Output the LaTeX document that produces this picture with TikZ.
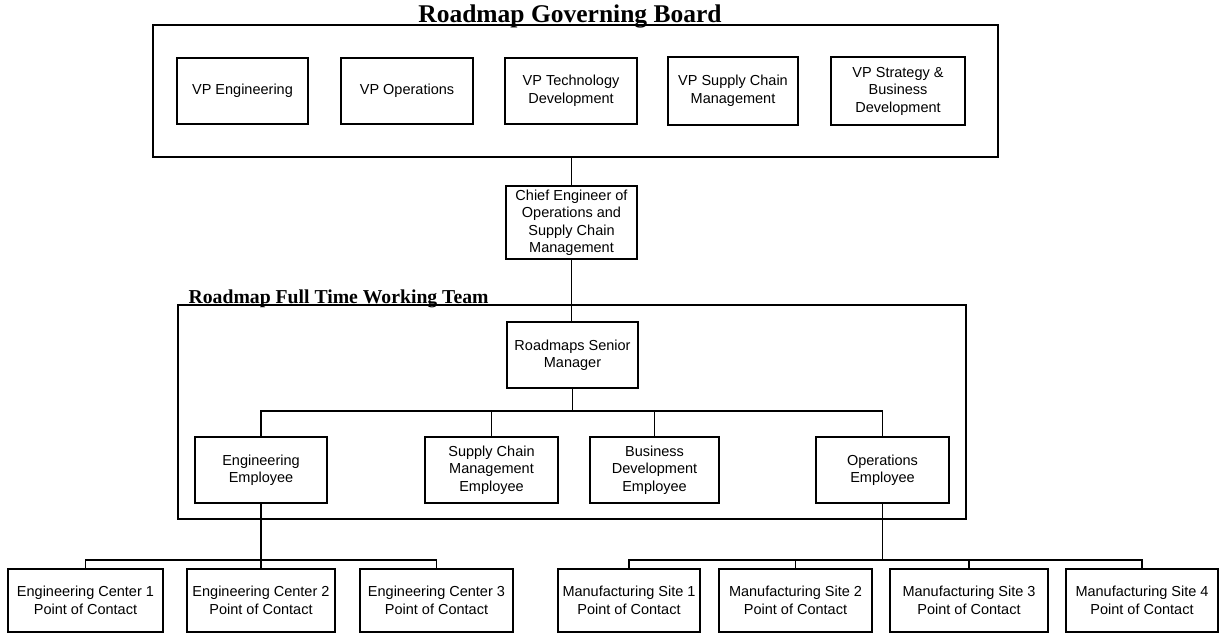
\documentclass[tikz,border=0pt]{standalone}
\usepackage{fontspec}
\setmainfont{Liberation Sans}
\newfontfamily\headfont{Liberation Serif}
\begin{document}
\begin{tikzpicture}[x=1pt,y=-1pt,
  line width=1.3pt,
  box/.style={draw, align=center, inner sep=0pt, font=\fontsize{14.5}{17.5}\selectfont},
  frame/.style={draw, inner sep=0pt},
  heading/.style={inner sep=0pt}]
\useasboundingbox (0,0) rectangle (1219,634);
% place a box by its corners: x1, x2, y1, y2
\newcommand{\boxat}[6]{%
  \node[box, minimum width=#3-#2, minimum height=#5-#4]
    (#1) at ({(#2+#3)/2},{(#4+#5)/2}) {#6};}

% governing board
\node[frame, minimum width=845, minimum height=132] (board) at (575.5,91) {};
\node[heading, anchor=base, font=\headfont\bfseries\fontsize{25.5}{28}\selectfont] (boardtitle) at (570,23) {Roadmap Governing Board};
\boxat{vpe}{177}{308}{58}{124}{VP Engineering}
\boxat{vpo}{341}{473}{58}{124}{VP Operations}
\boxat{vpt}{505}{637}{58}{124}{VP Technology\\Development}
\boxat{vps}{668}{798}{57}{125}{VP Supply Chain\\Management}
\boxat{vpsb}{831}{965}{57}{125}{VP Strategy \&\\Business\\Development}

% chief engineer
\boxat{chief}{506}{637}{186}{259}{Chief Engineer of\\Operations and\\Supply Chain\\Management}

% full time working team
\node[frame, minimum width=788, minimum height=214] (team) at (572,412) {};
\node[heading, anchor=base west, font=\headfont\bfseries\fontsize{19.7}{22}\selectfont] (teamtitle) at (188,303) {Roadmap Full Time Working Team};
\boxat{senior}{507}{638}{322}{388}{Roadmaps Senior\\Manager}
\boxat{ee}{195}{327}{437}{503}{Engineering\\Employee}
\boxat{sce}{425}{558}{437}{503}{Supply Chain\\Management\\Employee}
\boxat{bde}{590}{719}{437}{503}{Business\\Development\\Employee}
\boxat{oe}{816}{949}{437}{503}{Operations\\Employee}

% points of contact
\boxat{ec1}{8}{163}{569}{632}{Engineering Center 1\\Point of Contact}
\boxat{ec2}{187}{335}{569}{632}{Engineering Center 2\\Point of Contact}
\boxat{ec3}{360}{513}{569}{632}{Engineering Center 3\\Point of Contact}
\boxat{ms1}{558}{700}{569}{632}{Manufacturing Site 1\\Point of Contact}
\boxat{ms2}{719}{872}{569}{632}{Manufacturing Site 2\\Point of Contact}
\boxat{ms3}{890}{1048}{569}{632}{Manufacturing Site 3\\Point of Contact}
\boxat{ms4}{1066}{1218}{569}{632}{Manufacturing Site 4\\Point of Contact}

% bus levels
\coordinate (busA) at (0,411);
\coordinate (busB) at (0,560);

% connectors
\draw (chief.north) -- (chief.north |- board.south);
\draw (chief.south) -- (chief.south |- senior.north);
\draw (senior.south) -- (senior.south |- busA);
\draw (ee.north) |- (oe.north |- busA) -- (oe.north);
\draw (sce.north) -- (sce.north |- busA);
\draw (bde.north) -- (bde.north |- busA);
\draw (ee.south) -- (ee.south |- ec2.north);
\draw (ec1.north) |- (ec3.north |- busB) -- (ec3.north);
\draw (oe.south) -- (oe.south |- busB);
\draw (ms1.north) |- (ms4.north |- busB) -- (ms4.north);
\draw (ms2.north) -- (ms2.north |- busB);
\draw (ms3.north) -- (ms3.north |- busB);
\end{tikzpicture}
\end{document}
